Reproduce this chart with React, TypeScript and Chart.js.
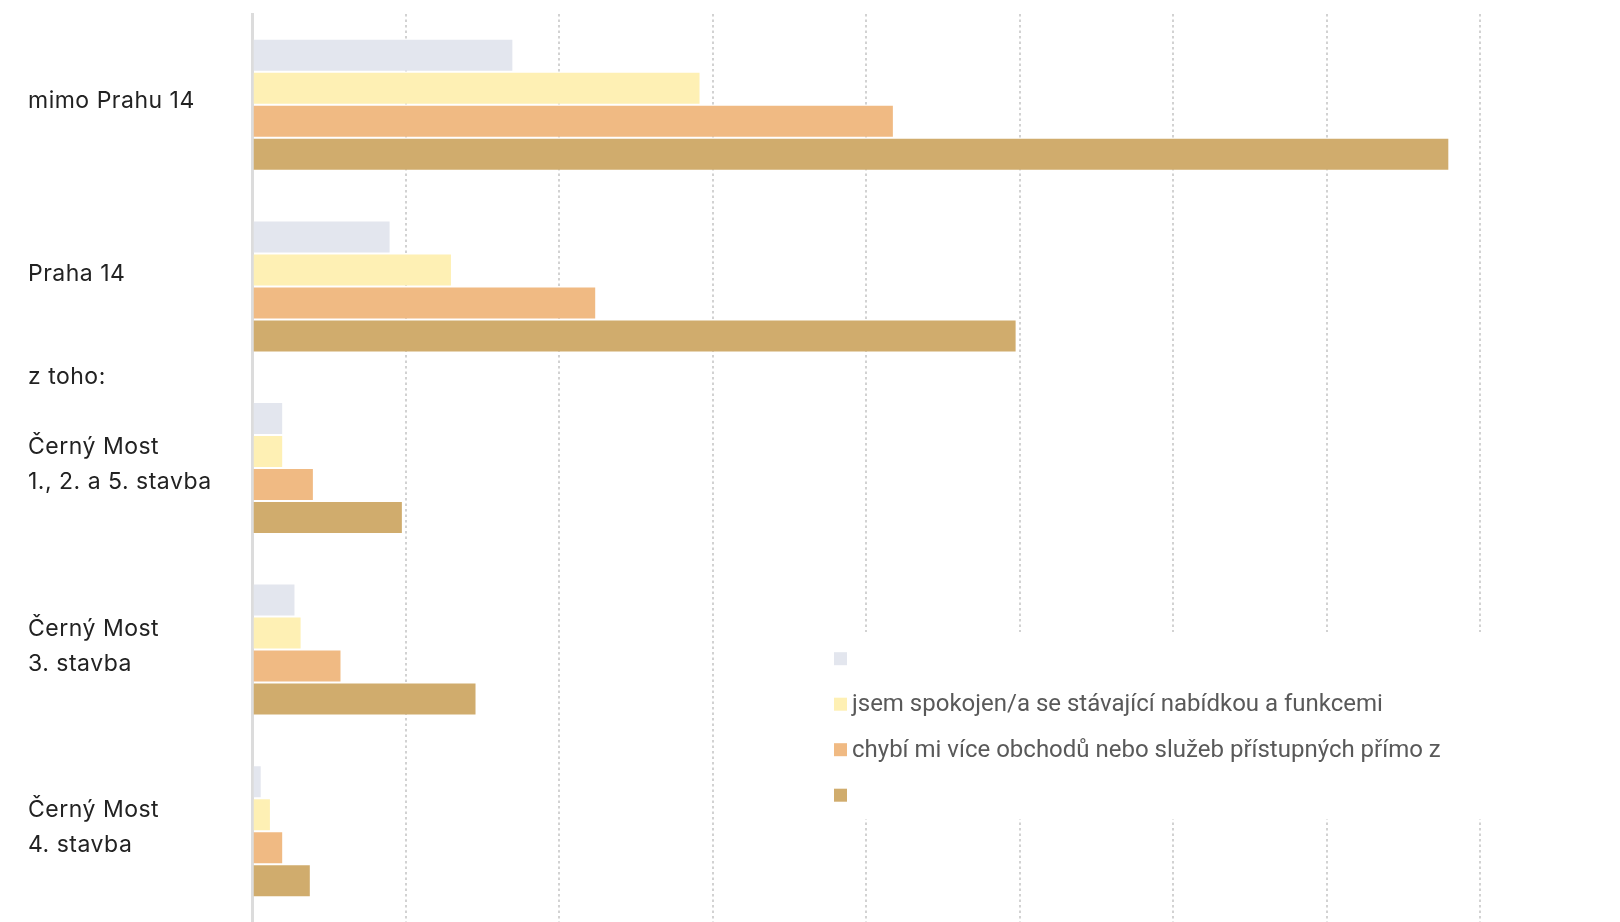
import React, { useEffect, useRef } from "react";
import { Chart, registerables } from "chart.js";

Chart.register(...registerables);

// ---- data ----
const categoryLabels: string[][] = [
  ["mimo Prahu 14"],
  ["", "", "", "", "", "Praha 14", "", "", "", "", "", "z toho:"],
  ["Černý Most", "1., 2. a 5. stavba"],
  ["Černý Most", "3. stavba"],
  ["Černý Most", "4. stavba"],
];
const seriesNames = [
  "",
  "jsem spokojen/a se stávající nabídkou a funkcemi",
  "chybí mi více obchodů nebo služeb přístupných přímo z",
  "",
];
const seriesGray = [85, 45, 10, 14, 3];
const seriesYellow = [146, 65, 10, 16, 6];
const seriesOrange = [209, 112, 20, 29, 10];
const seriesTan = [390, 249, 49, 73, 19];
const xMax = 400;
const xStep = 50;

const seriesColors = ["#e3e6ee", "#fef0b4", "#f0ba83", "#d0ac6d"];
const tickLineHeights = ["35px", "17.17px", "35px", "35px", "35px"];

function fontAvailable(name: string): boolean {
  const c = document.createElement("canvas").getContext("2d");
  if (!c) return false;
  const s = "abcdefghijklmnopqrstuvwxyz ABCDEFGHIJ";
  c.font = "40px monospace";
  const w1 = c.measureText(s).width;
  c.font = `40px '${name}', monospace`;
  const w2 = c.measureText(s).width;
  return Math.abs(w1 - w2) > 0.5;
}

export default function App() {
  const canvasRef = useRef<HTMLCanvasElement | null>(null);

  useEffect(() => {
    document.body.style.margin = "0";
    document.body.style.overflow = "hidden";
    const canvas = canvasRef.current;
    if (!canvas) return;

    let legendFont = "24px Roboto";
    if (fontAvailable("Liberation Sans Narrow")) legendFont = "27px 'Liberation Sans Narrow'";

    const spacing = {
      id: "labelSpacing",
      beforeDraw(chart: any) {
        (chart.ctx as any).letterSpacing = "0.5px";
      },
    };

    const boxLegend = {
      id: "boxLegend",
      afterDraw(chart: any) {
        const ctx = chart.ctx;
        (ctx as any).letterSpacing = "0px";
        ctx.save();
        ctx.fillStyle = "#ffffff";
        ctx.fillRect(760, 632, 860, 187);
        chart.data.datasets.forEach((ds: any, i: number) => {
          const cy = 658.7 + i * 45.5;
          ctx.fillStyle = ds.backgroundColor;
          ctx.fillRect(834, cy - 6.5, 13, 13);
          if (ds.label) {
            ctx.fillStyle = "#595959";
            ctx.font = legendFont;
            ctx.textBaseline = "middle";
            ctx.textAlign = "left";
            ctx.fillText(ds.label, 852, cy + 1);
          }
        });
        ctx.restore();
      },
    };

    const values = [seriesGray, seriesYellow, seriesOrange, seriesTan];
    const chart = new Chart(canvas, {
      type: "bar",
      data: {
        labels: categoryLabels,
        datasets: values.map((v, i) => ({
          label: seriesNames[i],
          data: v,
          backgroundColor: seriesColors[i],
          borderColor: "rgba(255,255,255,0.25)",
          borderWidth: 1,
          categoryPercentage: 0.727,
          barPercentage: 1,
        })),
      },
      options: {
        indexAxis: "y",
        responsive: false,
        animation: false,
        layout: { padding: { left: 28, top: 14, right: 140, bottom: 0 } },
        plugins: {
          legend: { display: false },
          tooltip: { enabled: false },
          title: { display: false },
        },
        scales: {
          x: {
            type: "linear",
            min: 0,
            max: xMax,
            ticks: { display: false, stepSize: xStep, padding: 0 },
            grid: { color: "#d2d2d2", lineWidth: 2, drawTicks: false },
            border: { display: false, dash: [2.5, 3] },
            afterFit: (scale: any) => {
              scale.height = 0;
              scale.paddingLeft = 0;
              scale.paddingRight = 0;
            },
          },
          y: {
            type: "category",
            z: 1,
            grid: { display: false, drawTicks: false },
            border: { display: true, color: "#dcdcdc", width: 3 },
            ticks: {
              autoSkip: false,
              crossAlign: "far",
              padding: 0,
              labelOffset: -3.5,
              color: "#222222",
              font: (ctx: any) => ({
                family: "Inter",
                size: 23,
                lineHeight: tickLineHeights[ctx.index] || "35px",
              }),
            },
            afterFit: (scale: any) => {
              scale.width = 224.5;
              scale.paddingTop = 0;
              scale.paddingBottom = 0;
            },
          },
        },
      },
      plugins: [spacing, boxLegend],
    } as any);

    return () => chart.destroy();
  }, []);

  return (
    <div style={{ width: 1620, height: 922 }}>
      <canvas ref={canvasRef} width={1620} height={922} style={{ display: "block" }} />
    </div>
  );
}
